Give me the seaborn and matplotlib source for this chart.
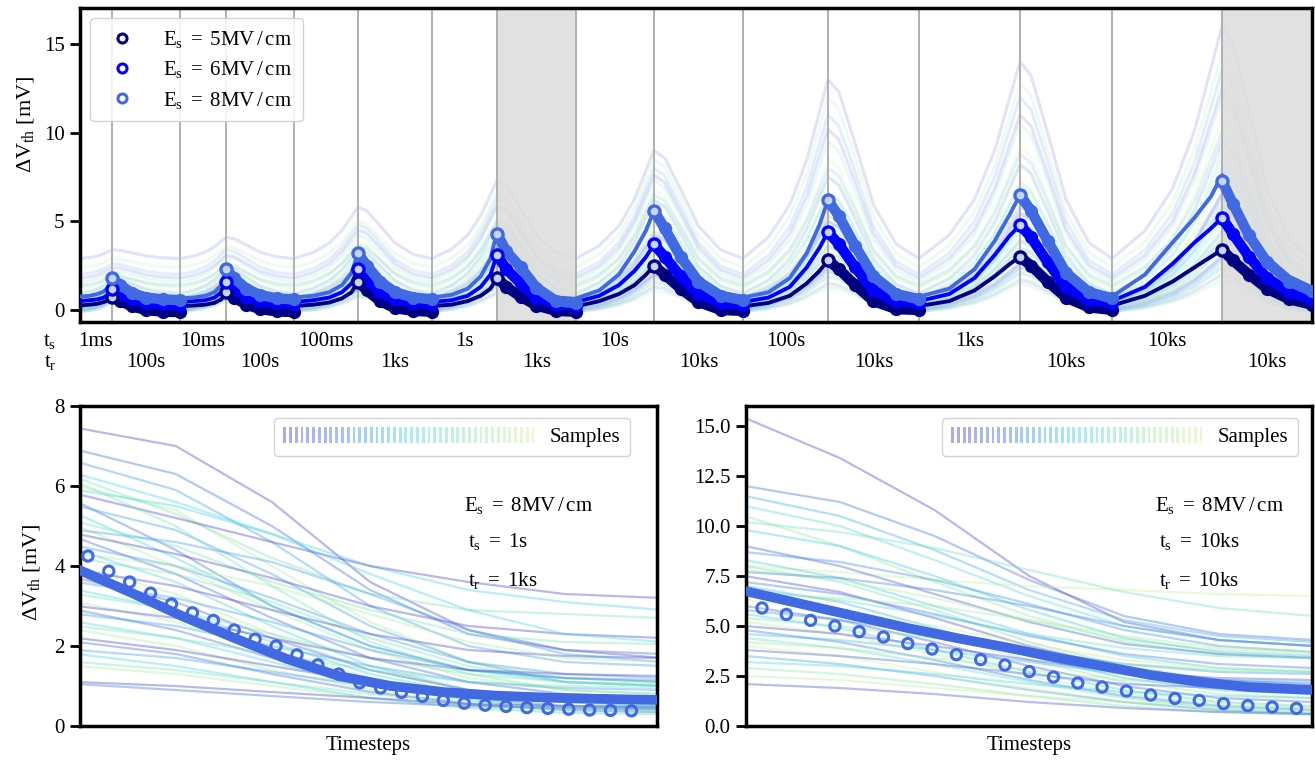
import numpy as np
import matplotlib
matplotlib.use("Agg")
import matplotlib.pyplot as plt
import matplotlib.transforms as mtransforms
from matplotlib.colors import LinearSegmentedColormap
from matplotlib.lines import Line2D
from matplotlib.patches import Rectangle
from matplotlib.legend_handler import HandlerBase
import seaborn as sns

# ---------------------------------------------------------------- data
# stress / recovery segment boundaries along the timestep axis
segment_bounds = [0, 32, 100, 146, 214, 278, 352, 417, 496, 574, 663, 748,
                  839, 940, 1032, 1142, 1232]
stress_labels = ["1ms", "10ms", "100ms", "1s", "10s", "100s", "1ks", "10ks"]
recovery_labels = ["100s", "100s", "1ks", "1ks", "10ks", "10ks", "10ks", "10ks"]
highlighted_cycles = [3, 7]
field_labels = ["5MV\\,/\\,cm", "6MV\\,/\\,cm", "8MV\\,/\\,cm"]

# relative positions of the stored points inside a stress / recovery segment
stress_grid = [0.0, 0.3, 0.55, 0.75, 0.9, 1.0]
recovery_grid = [0.0, 0.12, 0.3, 0.5, 0.75, 1.0]

# model mean during stress, per cycle
mean_stress_5 = [[0.25, 0.3, 0.35, 0.45, 0.55, 0.75], [0.22, 0.25, 0.3, 0.4, 0.6, 1.0],
                 [0.22, 0.3, 0.42, 0.65, 1.0, 1.6], [0.22, 0.3, 0.5, 0.8, 1.2, 1.8],
                 [0.2, 0.5, 0.9, 1.4, 2.0, 2.5], [0.2, 0.4, 0.8, 1.5, 2.2, 2.8],
                 [0.22, 0.5, 1.1, 1.9, 2.6, 3.0], [0.25, 0.8, 1.6, 2.4, 3.0, 3.4]]
mean_stress_6 = [[0.5, 0.55, 0.6, 0.7, 0.9, 1.2], [0.45, 0.5, 0.55, 0.7, 1.0, 1.6],
                 [0.45, 0.55, 0.7, 1.0, 1.5, 2.3], [0.45, 0.55, 0.8, 1.3, 2.0, 3.1],
                 [0.45, 0.8, 1.4, 2.2, 3.0, 3.7], [0.45, 0.7, 1.3, 2.4, 3.5, 4.4],
                 [0.5, 0.9, 1.8, 3.1, 4.2, 4.8], [0.5, 1.3, 2.6, 3.8, 4.6, 5.2]]
mean_stress_8 = [[0.75, 0.8, 0.9, 1.05, 1.3, 1.8], [0.65, 0.7, 0.8, 1.0, 1.4, 2.3],
                 [0.7, 0.8, 1.0, 1.4, 2.1, 3.2], [0.7, 0.85, 1.2, 1.9, 2.9, 4.4],
                 [0.65, 1.1, 2.0, 3.3, 4.5, 5.6], [0.7, 1.0, 1.8, 3.2, 4.8, 6.2],
                 [0.75, 1.2, 2.3, 3.9, 5.4, 6.5], [0.75, 2.0, 3.8, 5.2, 6.4, 7.6]]

# model mean during recovery, per cycle
mean_recovery_5 = [[0.7, 0.55, 0.35, 0.25, 0.2, 0.2], [0.95, 0.7, 0.45, 0.3, 0.22, 0.2],
                   [1.5, 1.1, 0.65, 0.38, 0.25, 0.2], [1.7, 1.4, 0.9, 0.45, 0.25, 0.2],
                   [2.4, 2.0, 1.3, 0.6, 0.3, 0.25], [2.7, 2.3, 1.5, 0.7, 0.3, 0.25],
                   [2.9, 2.5, 1.7, 0.85, 0.35, 0.25], [3.3, 2.8, 2.1, 1.3, 0.75, 0.5]]
mean_recovery_6 = [[1.1, 0.9, 0.65, 0.5, 0.42, 0.4], [1.5, 1.15, 0.8, 0.6, 0.5, 0.45],
                   [2.2, 1.7, 1.1, 0.7, 0.52, 0.45], [2.9, 2.4, 1.6, 0.85, 0.5, 0.45],
                   [3.5, 3.0, 2.0, 1.1, 0.55, 0.45], [4.2, 3.6, 2.5, 1.3, 0.65, 0.5],
                   [4.6, 4.0, 2.8, 1.5, 0.7, 0.5], [5.0, 4.3, 3.1, 2.0, 1.2, 0.8]]
mean_recovery_8 = [[1.6, 1.3, 0.95, 0.75, 0.65, 0.6], [2.1, 1.7, 1.2, 0.9, 0.75, 0.7],
                   [3.0, 2.4, 1.6, 1.1, 0.8, 0.7], [3.9, 3.4, 2.2, 1.15, 0.73, 0.65],
                   [5.2, 4.5, 3.1, 1.8, 1.0, 0.75], [5.8, 5.1, 3.6, 2.0, 1.1, 0.8],
                   [6.1, 5.4, 3.9, 2.2, 1.2, 0.85], [7.0, 6.0, 4.4, 3.0, 1.9, 1.3]]

# measured recovery, per cycle
measured_5 = [[0.75, 0.5, 0.2, 0.0, -0.1, -0.12], [1.0, 0.7, 0.3, 0.05, -0.08, -0.12],
              [1.6, 1.1, 0.5, 0.1, -0.05, -0.1], [1.8, 1.3, 0.75, 0.25, -0.05, -0.1],
              [2.5, 2.0, 1.2, 0.45, 0.0, -0.05], [2.8, 2.3, 1.4, 0.5, 0.05, 0.0],
              [3.0, 2.5, 1.6, 0.7, 0.15, 0.0], [3.4, 2.8, 2.0, 1.2, 0.6, 0.3]]
measured_6 = [[1.2, 0.9, 0.6, 0.4, 0.32, 0.3], [1.6, 1.2, 0.75, 0.5, 0.38, 0.35],
              [2.3, 1.7, 1.0, 0.6, 0.42, 0.35], [3.1, 2.3, 1.5, 0.7, 0.3, 0.25],
              [3.7, 3.0, 1.9, 0.9, 0.4, 0.3], [4.4, 3.7, 2.4, 1.1, 0.5, 0.4],
              [4.8, 4.1, 2.7, 1.3, 0.55, 0.4], [5.2, 4.3, 3.0, 1.8, 1.0, 0.6]]
measured_8 = [[1.8, 1.4, 0.95, 0.7, 0.6, 0.55], [2.3, 1.8, 1.2, 0.85, 0.65, 0.6],
              [3.2, 2.5, 1.6, 1.0, 0.7, 0.6], [4.3, 3.3, 2.4, 1.25, 0.5, 0.37],
              [5.6, 4.6, 3.0, 1.6, 0.8, 0.55], [6.2, 5.3, 3.6, 1.9, 0.9, 0.6],
              [6.5, 5.6, 3.9, 2.1, 1.0, 0.65], [7.3, 6.0, 4.2, 2.7, 1.6, 1.05]]

# posterior samples: peak at the end of each stress phase and recovered level
sample_rise = [0.0, 0.12, 0.3, 0.55, 0.82, 1.0]
sample_decay = [1.0, 0.93, 0.64, 0.3, 0.08, 0.0]
sample_peaks = [
    [3.4, 4.1, 5.8, 7.3, 9.0, 13.0, 14.0, 16.0], [2.6, 3.4, 4.8, 6.3, 8.0, 11.0, 12.0, 13.5],
    [2.2, 3.0, 4.2, 5.8, 7.3, 9.5, 10.5, 12.0], [2.0, 2.7, 3.8, 5.2, 6.8, 8.5, 9.2, 10.8],
    [1.8, 2.4, 3.4, 4.8, 6.2, 7.5, 8.2, 9.5], [1.6, 2.1, 3.0, 4.2, 5.5, 6.6, 7.2, 8.6],
    [1.4, 1.9, 2.7, 3.7, 4.8, 5.8, 6.3, 7.6], [1.2, 1.6, 2.3, 3.2, 4.2, 5.0, 5.5, 6.6],
    [1.1, 1.4, 2.0, 2.8, 3.6, 4.3, 4.8, 5.8], [2.9, 3.6, 5.0, 6.6, 8.5, 12.0, 12.8, 14.5],
    [2.4, 3.1, 4.5, 5.9, 7.6, 10.2, 11.0, 12.5], [1.9, 2.5, 3.6, 5.0, 6.5, 8.0, 8.8, 10.0],
    [1.7, 2.2, 3.2, 4.4, 5.5, 6.5, 7.0, 8.0], [1.5, 2.0, 2.8, 3.8, 4.8, 5.8, 6.2, 7.0],
    [1.3, 1.7, 2.4, 3.3, 4.2, 5.0, 5.4, 6.2], [1.1, 1.5, 2.1, 2.9, 3.6, 4.3, 4.7, 5.4],
    [1.0, 1.3, 1.8, 2.5, 3.1, 3.7, 4.0, 4.6], [0.9, 1.1, 1.6, 2.1, 2.7, 3.2, 3.5, 4.0],
    [0.8, 1.0, 1.4, 1.8, 2.3, 2.7, 3.0, 3.4], [2.0, 2.6, 3.7, 5.0, 6.2, 7.5, 8.2, 9.0],
    [1.4, 1.8, 2.6, 3.5, 4.4, 5.3, 5.8, 6.5], [1.2, 1.6, 2.2, 3.0, 3.9, 4.7, 5.0, 5.8],
    [0.95, 1.2, 1.7, 2.3, 2.9, 3.5, 3.8, 4.3], [0.7, 0.9, 1.2, 1.6, 2.0, 2.4, 2.6, 3.0],
    [1.0, 1.3, 1.9, 2.4, 3.2, 3.6, 3.9, 4.4], [0.9, 1.1, 1.6, 2.1, 2.8, 3.1, 3.4, 3.9],
    [0.8, 1.0, 1.4, 1.8, 2.4, 2.7, 3.0, 3.4], [0.7, 0.9, 1.2, 1.6, 2.1, 2.4, 2.6, 3.0],
    [0.6, 0.8, 1.1, 1.4, 1.8, 2.1, 2.3, 2.6], [0.5, 0.7, 0.9, 1.2, 1.5, 1.8, 2.0, 2.3],
    [0.45, 0.6, 0.8, 1.0, 1.3, 1.5, 1.7, 2.0], [1.2, 1.5, 2.2, 2.8, 3.6, 4.1, 4.4, 5.0],
    [0.85, 1.05, 1.5, 1.9, 2.5, 2.9, 3.1, 3.6], [0.65, 0.85, 1.15, 1.5, 1.9, 2.2, 2.4, 2.8],
    [0.55, 0.7, 1.0, 1.3, 1.6, 1.9, 2.1, 2.4], [0.4, 0.5, 0.7, 0.9, 1.1, 1.3, 1.5, 1.7]]
sample_floors = [2.9, 2.0, 1.6, 1.2, 0.9, 0.7, 0.5, 0.4, 0.3, 2.4, 1.8, 1.4,
                 1.0, 0.8, 0.6, 0.5, 0.35, 0.25, 0.2, 1.3, 0.7, 0.45, 0.3, 0.15,
                 0.3, 0.2, 0.1, 0.05, 0.0, -0.05, -0.1, 0.4, 0.15, 0.0, -0.05, -0.1]

# detail panel: ts = 1s, tr = 1ks
detail1_measured = [4.25, 3.87, 3.6, 3.32, 3.05, 2.83, 2.64, 2.4, 2.17, 2.0, 1.78, 1.53,
                    1.3, 1.08, 0.95, 0.84, 0.74, 0.64, 0.57, 0.52, 0.49, 0.46, 0.44,
                    0.42, 0.40, 0.39, 0.38]
detail1_mean_steps = [-0.5, 2, 4.5, 7, 9.5, 12, 14.5, 17, 19.5, 22, 24.5, 27.5]
detail1_mean = [3.92, 3.35, 2.75, 2.2, 1.68, 1.25, 1.0, 0.85, 0.76, 0.71, 0.68, 0.65]
detail1_sample_steps = [-0.5, 4.2, 8.8, 13.5, 18.2, 22.8, 27.5]
detail1_samples = [
    [7.45, 7.0, 5.6, 3.6, 2.4, 1.9, 1.7], [6.9, 6.3, 5.0, 3.4, 2.3, 1.9, 1.8],
    [6.6, 5.9, 4.6, 3.0, 2.0, 1.6, 1.5], [6.3, 5.6, 4.8, 4.0, 3.4, 3.1, 2.9],
    [6.2, 5.3, 4.2, 3.3, 2.9, 2.8, 2.7], [6.0, 5.4, 4.0, 2.6, 1.6, 1.2, 1.1],
    [5.8, 5.2, 4.6, 4.0, 3.6, 3.3, 3.2], [5.6, 4.4, 3.0, 2.0, 1.4, 1.2, 1.1],
    [5.5, 4.9, 3.8, 2.5, 1.6, 1.1, 1.0], [5.3, 4.2, 3.0, 2.0, 1.4, 1.1, 1.0],
    [5.1, 4.5, 3.6, 2.9, 2.3, 2.1, 2.05], [5.0, 4.0, 2.9, 1.9, 1.2, 0.9, 0.8],
    [4.8, 4.3, 3.7, 3.0, 2.5, 2.3, 2.2], [4.7, 3.8, 2.7, 1.7, 1.1, 0.8, 0.7],
    [4.5, 4.0, 3.2, 2.3, 1.6, 1.3, 1.2], [4.4, 3.6, 2.5, 1.5, 0.9, 0.6, 0.5],
    [4.2, 3.8, 3.1, 2.2, 1.5, 1.1, 1.0], [4.0, 3.3, 2.3, 1.4, 0.9, 0.6, 0.55],
    [3.9, 3.5, 2.9, 2.3, 1.9, 1.75, 1.7], [3.7, 3.1, 2.2, 1.4, 0.9, 0.7, 0.65],
    [3.6, 3.2, 2.6, 1.9, 1.4, 1.2, 1.15], [3.4, 2.9, 2.1, 1.3, 0.8, 0.6, 0.5],
    [3.3, 2.9, 2.3, 1.7, 1.3, 1.1, 1.05], [3.1, 2.6, 1.9, 1.2, 0.8, 0.6, 0.55],
    [3.0, 2.7, 2.2, 1.7, 1.4, 1.3, 1.25], [2.9, 2.4, 1.7, 1.1, 0.7, 0.5, 0.45],
    [2.8, 2.5, 2.0, 1.5, 1.1, 0.95, 0.9], [2.6, 2.2, 1.6, 1.0, 0.65, 0.45, 0.4],
    [2.5, 2.2, 1.8, 1.4, 1.1, 1.0, 0.95], [2.4, 2.0, 1.4, 0.9, 0.55, 0.4, 0.35],
    [2.2, 1.9, 1.5, 1.1, 0.8, 0.7, 0.65], [2.1, 1.8, 1.3, 0.85, 0.55, 0.4, 0.35],
    [1.9, 1.7, 1.35, 1.0, 0.75, 0.62, 0.6], [1.8, 1.5, 1.1, 0.7, 0.45, 0.33, 0.3],
    [1.6, 1.4, 1.1, 0.8, 0.6, 0.5, 0.48], [1.5, 1.3, 1.0, 0.7, 0.5, 0.4, 0.38],
    [1.1, 1.0, 0.85, 0.7, 0.55, 0.5, 0.48], [1.05, 0.9, 0.75, 0.6, 0.5, 0.45, 0.42],
    [4.9, 4.6, 4.1, 3.3, 2.4, 1.8, 1.6], [5.9, 5.5, 4.8, 3.8, 2.9, 2.3, 2.1],
    [6.1, 5.0, 3.5, 2.1, 1.3, 0.9, 0.8], [4.3, 4.0, 3.5, 2.8, 2.1, 1.7, 1.6]]

# detail panel: ts = 10ks, tr = 10ks
detail2_measured = [5.9, 5.58, 5.28, 5.0, 4.72, 4.45, 4.12, 3.85, 3.57, 3.32, 3.05, 2.72,
                    2.45, 2.15, 1.95, 1.75, 1.55, 1.38, 1.28, 1.12, 1.02, 0.95, 0.88]
detail2_mean_steps = [-0.7, 2, 4, 6, 8, 10, 12, 14, 16, 18, 20, 22.7]
detail2_mean = [6.75, 6.0, 5.45, 4.9, 4.4, 3.95, 3.45, 3.0, 2.55, 2.2, 1.95, 1.8]
detail2_sample_steps = [-0.7, 3.2, 7.1, 11.0, 14.9, 18.8, 22.7]
detail2_samples = [
    [15.4, 13.4, 10.8, 7.5, 5.2, 4.3, 4.0], [12.0, 11.2, 9.5, 7.3, 5.5, 4.6, 4.3],
    [11.5, 10.5, 8.8, 6.8, 5.3, 4.5, 4.2], [11.0, 10.0, 8.3, 6.5, 5.0, 4.3, 4.0],
    [10.5, 9.0, 7.2, 5.5, 4.2, 3.6, 3.4], [8.0, 7.7, 7.3, 7.0, 6.8, 6.6, 6.5],
    [9.0, 8.0, 6.6, 5.2, 4.1, 3.6, 3.4], [8.7, 8.2, 7.3, 6.1, 4.8, 4.0, 3.7],
    [8.3, 7.4, 6.0, 4.6, 3.5, 2.9, 2.7], [8.0, 7.2, 5.8, 4.2, 3.0, 2.3, 2.0],
    [7.8, 7.3, 6.4, 5.3, 4.3, 3.8, 3.6], [7.5, 6.7, 5.4, 4.0, 2.9, 2.3, 2.1],
    [7.2, 6.6, 5.6, 4.5, 3.6, 3.1, 2.9], [7.0, 6.2, 4.9, 3.5, 2.4, 1.8, 1.6],
    [6.8, 6.3, 5.5, 4.6, 3.9, 3.5, 3.4], [6.5, 5.8, 4.6, 3.3, 2.2, 1.6, 1.4],
    [6.3, 5.8, 5.0, 4.1, 3.3, 2.9, 2.8], [6.0, 5.3, 4.2, 3.0, 2.0, 1.4, 1.2],
    [5.8, 5.3, 4.6, 3.8, 3.1, 2.7, 2.6], [5.6, 4.9, 3.8, 2.7, 1.8, 1.2, 1.0],
    [5.4, 5.0, 4.4, 3.7, 3.1, 2.8, 2.7], [5.2, 4.6, 3.6, 2.5, 1.6, 1.1, 0.9],
    [5.0, 4.6, 4.0, 3.3, 2.7, 2.4, 2.3], [4.8, 4.2, 3.3, 2.3, 1.5, 1.0, 0.8],
    [4.6, 4.3, 3.8, 3.2, 2.6, 2.3, 2.2], [4.4, 3.9, 3.1, 2.2, 1.4, 0.9, 0.7],
    [4.2, 3.9, 3.4, 2.8, 2.3, 2.0, 1.9], [4.0, 3.5, 2.7, 1.9, 1.2, 0.8, 0.6],
    [3.8, 3.5, 3.1, 2.6, 2.1, 1.9, 1.8], [3.5, 3.1, 2.5, 1.8, 1.2, 0.8, 0.6],
    [3.2, 3.0, 2.6, 2.1, 1.7, 1.5, 1.4], [2.9, 2.6, 2.1, 1.5, 1.0, 0.7, 0.55],
    [2.5, 2.3, 1.9, 1.5, 1.2, 1.0, 0.95], [2.1, 1.9, 1.6, 1.2, 0.9, 0.7, 0.6],
    [7.7, 7.4, 6.8, 6.0, 5.0, 4.3, 4.0], [9.8, 9.0, 7.5, 5.8, 4.4, 3.7, 3.5],
    [10.2, 9.7, 8.9, 7.8, 6.7, 5.9, 5.5], [6.6, 6.4, 6.0, 5.3, 4.5, 3.9, 3.7]]

# ---------------------------------------------------------------- style
sns.set_theme(style="white")
FS = 15
plt.rcParams.update({
    "font.family": ["Liberation Serif", "DejaVu Serif"],
    "mathtext.fontset": "custom",
    "mathtext.rm": "Liberation Serif",
    "mathtext.it": "Liberation Serif:italic",
    "mathtext.bf": "Liberation Serif:bold",
    "font.size": FS,
    "axes.edgecolor": "black",
    "axes.linewidth": 2.5,
    "xtick.color": "black",
    "ytick.color": "black",
    "text.color": "black",
    "axes.labelcolor": "black",
})

field_colors = ["navy", "blue", "royalblue"]
sample_cmap = LinearSegmentedColormap.from_list(
    "samples", ["#4b45c8", "#3c7fe6", "#3fd6e6", "#8fe8a8", "#d4f29a"])

fig = plt.figure(figsize=(13.15, 7.62), dpi=100)
ax_top = fig.add_axes([0.0608, 0.5774, 0.9369, 0.4121])
ax_bl = fig.add_axes([0.0608, 0.0472, 0.4388, 0.42])
ax_br = fig.add_axes([0.5673, 0.0472, 0.4304, 0.42])

for ax in (ax_top, ax_bl, ax_br):
    for sp in ax.spines.values():
        sp.set_visible(True)
        sp.set_linewidth(2.5)
        sp.set_color("black")
    ax.tick_params(axis="y", left=True, direction="out", length=7, width=2,
                   labelsize=FS, pad=4)
    ax.tick_params(axis="x", bottom=False, labelbottom=False)

# ---------------------------------------------------------------- top panel
n_cycles = len(stress_labels)
sg = np.array(stress_grid)
rg = np.array(recovery_grid)


def cycle_steps(c):
    s0, s1, s2 = segment_bounds[2 * c], segment_bounds[2 * c + 1], segment_bounds[2 * c + 2]
    return s0 + (s1 - s0) * sg, s1 + (s2 - s1) * rg


n_samples = len(sample_peaks)
for k in range(n_samples):
    xs, ys = [], []
    fl = sample_floors[k]
    for c in range(n_cycles):
        xst, xre = cycle_steps(c)
        pk = sample_peaks[k][c]
        xs += list(xst) + list(xre)
        ys += list(fl + (pk - fl) * np.array(sample_rise))
        ys += list(fl + (pk - fl) * np.array(sample_decay))
    col = sample_cmap(((k * 11) % n_samples) / (n_samples - 1))
    sns.lineplot(x=xs, y=ys, ax=ax_top, color=col, alpha=0.15, lw=2.2,
                 estimator=None, sort=False, zorder=1)

for c in highlighted_cycles:
    ax_top.axvspan(segment_bounds[2 * c + 1], segment_bounds[2 * c + 2],
                   color="#dcdcdc", alpha=0.85, lw=0, zorder=2)
for b in segment_bounds[1:-1]:
    ax_top.axvline(b, color="#b0b0b0", lw=1.4, zorder=2.5)

mean_stress = [mean_stress_5, mean_stress_6, mean_stress_8]
mean_recovery = [mean_recovery_5, mean_recovery_6, mean_recovery_8]
measured = [measured_5, measured_6, measured_8]
for e in range(3):
    col = field_colors[e]
    for c in range(n_cycles):
        xst, xre = cycle_steps(c)
        sns.lineplot(x=xst, y=mean_stress[e][c], ax=ax_top, color=col, lw=2.8,
                     estimator=None, sort=False, zorder=3)
        sns.lineplot(x=xre, y=mean_recovery[e][c], ax=ax_top, color=col, lw=2.2,
                     estimator=None, sort=False, zorder=3)
        sns.lineplot(x=xre, y=measured[e][c], ax=ax_top, color=col, lw=7.5,
                     estimator=None, sort=False, zorder=4,
                     solid_capstyle="round")
        ax_top.plot(xre, measured[e][c], ls="none", marker="o", ms=7.5, mew=2,
                    mfc=col, mec=col, zorder=4)
        ax_top.plot(xre[:1], measured[e][c][:1], ls="none", marker="o", ms=8,
                    mew=2.4, mfc="#c8d4f4", mec=col, zorder=4.5)

ax_top.set_xlim(segment_bounds[0], segment_bounds[-1])
ax_top.set_ylim(-0.68, 17.03)
ax_top.set_yticks([0, 5, 10, 15])
ax_top.set_xlabel("")
ax_top.set_ylabel(r"$\Delta\mathrm{V_{th}}$ [mV]", fontsize=FS + 1)
ax_top.yaxis.set_label_coords(-0.036, 0.63)

trans = mtransforms.blended_transform_factory(ax_top.transData, ax_top.transAxes)
ax_top.text(-30, -0.062, r"$\mathrm{t_s}$", transform=trans, ha="center",
            va="center", fontsize=FS, clip_on=False)
ax_top.text(-30, -0.128, r"$\mathrm{t_r}$", transform=trans, ha="center",
            va="center", fontsize=FS, clip_on=False)
for c in range(n_cycles):
    s0, s1, s2 = segment_bounds[2 * c], segment_bounds[2 * c + 1], segment_bounds[2 * c + 2]
    ax_top.text((s0 + s1) / 2, -0.062, stress_labels[c], transform=trans,
                ha="center", va="center", fontsize=FS, clip_on=False)
    ax_top.text((s1 + s2) / 2, -0.128, recovery_labels[c], transform=trans,
                ha="center", va="center", fontsize=FS, clip_on=False)

top_handles = [Line2D([], [], ls="none", marker="o", ms=6.5, mew=2.2, mfc="none",
                      mec=field_colors[e]) for e in range(3)]
top_labels = [r"$\mathrm{E_s}\ =\ \mathrm{%s}$" % f for f in field_labels]
ax_top.legend(top_handles, top_labels, loc="upper left", fontsize=FS,
              frameon=True, fancybox=True, framealpha=0.85, edgecolor="#cccccc",
              handlelength=2.0, handletextpad=1.0, borderpad=0.5,
              labelspacing=0.45, borderaxespad=0.5)


# ---------------------------------------------------------------- detail panels
class TickStripHandler(HandlerBase):
    def __init__(self, cmap, n=44, alpha=0.45):
        super().__init__()
        self.cmap, self.n, self.alpha = cmap, n, alpha

    def create_artists(self, legend, orig_handle, xdescent, ydescent, width,
                       height, fontsize, trans):
        step = width / self.n
        arts = []
        for i in range(self.n):
            r = Rectangle((-xdescent + i * step, -ydescent - 0.1 * height),
                          step * 0.5, height * 1.15,
                          facecolor=self.cmap(i / (self.n - 1)), alpha=self.alpha,
                          edgecolor="none", transform=trans)
            arts.append(r)
        return arts


def draw_detail(ax, sample_steps, samples, mean_steps, mean_vals, meas_vals,
                xlim, ylim, yticks, ytick_fmt, text_x, ts, tr, legend_x):
    n = len(samples)
    for i, s in enumerate(samples):
        col = sample_cmap(((i * 7) % n) / (n - 1))
        sns.lineplot(x=sample_steps, y=s, ax=ax, color=col, alpha=0.38, lw=1.6,
                     estimator=None, sort=False, zorder=1)
    sns.lineplot(x=mean_steps, y=mean_vals, ax=ax, color="royalblue", lw=7,
                 estimator=None, sort=False, zorder=3)
    sns.scatterplot(x=np.arange(len(meas_vals)), y=meas_vals, ax=ax,
                    marker="o", s=55, facecolor="none", edgecolor="royalblue",
                    linewidth=2.2, zorder=4)
    ax.set_xlim(*xlim)
    ax.set_ylim(*ylim)
    ax.set_yticks(yticks)
    ax.set_yticklabels([ytick_fmt.format(v) for v in yticks])
    ax.set_xlabel("Timesteps", fontsize=FS)
    ax.xaxis.set_label_coords(0.5, -0.03)
    ax.xaxis.label.set_verticalalignment("top")
    ax.xaxis.label.set_visible(True)
    h = Line2D([], [], color="none")
    ax.legend([h], ["Samples"], handler_map={h: TickStripHandler(sample_cmap)},
              loc="upper right", bbox_to_anchor=(legend_x, 0.9625),
              fontsize=FS, frameon=True, fancybox=True,
              framealpha=0.85, edgecolor="#cccccc", handlelength=12.2,
              handletextpad=0.6, borderpad=0.45, borderaxespad=0.0)
    ax.text(text_x, 0.69, r"$\mathrm{E_s}\ =\ \mathrm{8MV\,/\,cm}$",
            transform=ax.transAxes, ha="left", va="center", fontsize=FS)
    ax.text(text_x + 0.008, 0.578, r"$\mathrm{t_s}\ =\ \mathrm{%s}$" % ts,
            transform=ax.transAxes, ha="left", va="center", fontsize=FS)
    ax.text(text_x + 0.008, 0.456, r"$\mathrm{t_r}\ =\ \mathrm{%s}$" % tr,
            transform=ax.transAxes, ha="left", va="center", fontsize=FS)


draw_detail(ax_bl, detail1_sample_steps, detail1_samples, detail1_mean_steps,
            detail1_mean, detail1_measured, (-0.38, 27.22), (0, 8),
            [0, 2, 4, 6, 8], "{:g}", 0.665, "1s", "1ks", 0.953)
ax_bl.set_ylabel(r"$\Delta\mathrm{V_{th}}$ [mV]", fontsize=FS + 1)
ax_bl.yaxis.set_label_coords(-0.066, 0.48)

draw_detail(ax_br, detail2_sample_steps, detail2_samples, detail2_mean_steps,
            detail2_mean, detail2_measured, (-0.66, 22.64), (0, 16),
            [0, 2.5, 5, 7.5, 10, 12.5, 15], "{:.1f}", 0.722, "10ks", "10ks", 0.975)
ax_br.set_ylabel("")

fig.savefig("out.png", dpi=100)
